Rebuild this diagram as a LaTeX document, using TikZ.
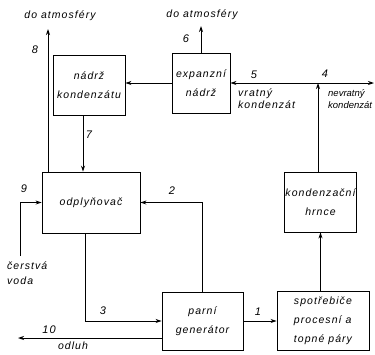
\documentclass[tikz,border=0pt]{standalone}
\usepackage{fontspec}
\setmainfont{Liberation Sans}[ItalicFont={Liberation Sans Italic}]
\newfontfamily\lbl[LetterSpace=10]{Liberation Sans Italic}
\newfontfamily\lbltight{Liberation Sans Italic}
\usetikzlibrary{arrows.meta,calc}
\tikzset{
  box/.style={draw, line width=0.9pt, inner sep=1pt, align=center, font=\lbl\fontsize{10.5}{19}\selectfont},
  flow/.style={line width=0.9pt, -{Stealth[length=6pt,width=4pt]}},
  txt/.style={font=\lbl\fontsize{10.5}{13}\selectfont, inner sep=0pt},
  num/.style={font=\lbl\fontsize{11}{13}\selectfont, inner sep=0pt}
}
\begin{document}
\begin{tikzpicture}[x=1pt,y=-1pt]
\useasboundingbox (0,0) rectangle (375,354);
\fill[white] (0,0) rectangle (375,354);
% boxes
\node[box, minimum width=72pt, minimum height=60pt] (nadrz) at (89,85) {nádrž\\kondenzátu};
\node[box, minimum width=58pt, minimum height=60pt] (expanz) at (201,83) {expanzní\\nádrž};
\node[box, minimum width=98pt, minimum height=61pt] (odply) at (91,202.5) {odplyňovač};
\node[box, minimum width=81pt, minimum height=58pt] (parni) at (202.5,321) {parní\\generátor};
\node[box, minimum width=92pt, minimum height=59pt, align=left] (spotr) at (323,320.5) {spotřebiče\\procesní a\\topné páry};
\node[box, minimum width=69pt, minimum height=60pt] (hrnce) at (320.5,202) {kondenzační\\hrnce};
% coordinates
\coordinate (atm1) at (48,29);
\coordinate (atm2) at (201,26);
\coordinate (s7) at (83,115);
\coordinate (d3) at (85,233);
\coordinate (j) at (318,83);
\coordinate (nevr) at (374,83);
\coordinate (cv) at (20,256);
\coordinate (o10) at (18,338);
% connectors
\draw[flow] (odply.north -| atm1) -- (atm1);
\draw[flow] (nadrz.south -| s7) -- (odply.north -| s7);
\draw[flow] (expanz.west) -- (expanz.west -| nadrz.east);
\draw[flow] (expanz.north -| atm2) -- (atm2);
\draw[flow] (hrnce.north -| j) -- (j);
\draw[flow] (j) -- (expanz.east |- j);
\draw[flow] (j) -- (nevr);
\draw[flow] (cv) |- (odply.west);
\draw[flow] (parni.north) |- (odply.east);
\draw[flow] (odply.south -| d3) |- (parni.west);
\draw[flow] (parni.west |- o10) -- (o10);
\draw[flow] (parni.east) -- (parni.east -| spotr.west);
\draw[flow] (hrnce.south |- spotr.north) -- (hrnce.south);
% labels
\node[txt] (t1) at (60,16) {do atmosféry};
\node[txt] (t2) at (202,15) {do atmosféry};
\node[num] (n8) at (35,50) {8};
\node[num] (n7) at (89,135) {7};
\node[num] (n6) at (186,39) {6};
\node[num] (n5) at (254,75) {5};
\node[num] (n4) at (325,74) {4};
\node[num] (n9) at (24,189) {9};
\node[num] (n2) at (172,191) {2};
\node[num] (n3) at (103,311) {3};
\node[num] (n1) at (258,312) {1};
\node[num] (n10) at (49,330) {10};
\node[txt, anchor=north west, align=left, font=\lbl\fontsize{10.5}{12}\selectfont] (vr) at (238,89) {vratný\\kondenzát};
\node[txt, anchor=north west, align=left, font=\lbltight\fontsize{9.5}{12}\selectfont] (nv) at (328,89) {nevratný\\kondenzát};
\node[txt, anchor=north west, align=left, font=\lbl\fontsize{10.5}{15}\selectfont] (cvt) at (7,262) {čerstvá\\voda};
\node[txt] (odl) at (73,346) {odluh};
\end{tikzpicture}
\end{document}
